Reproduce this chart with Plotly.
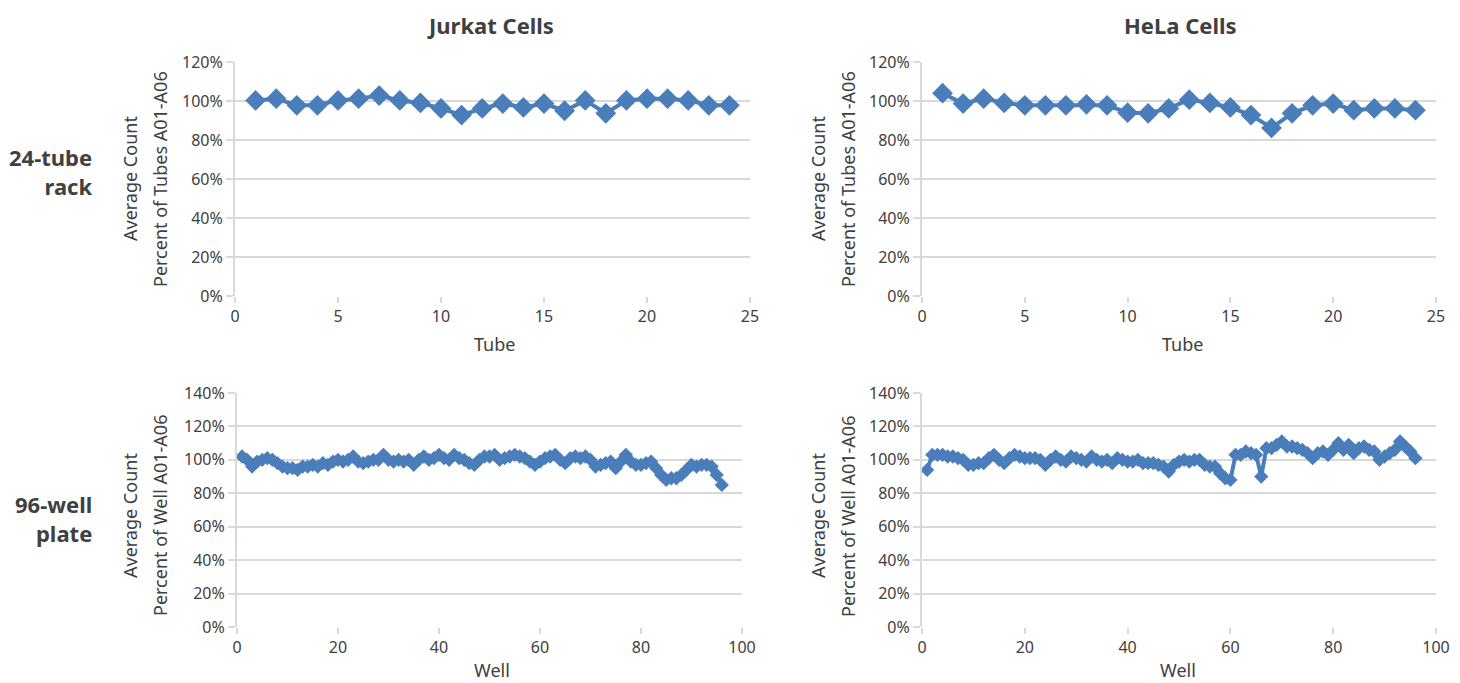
import plotly.graph_objects as go

# ---------------- data ----------------
tubes = list(range(1, 25))
jurkat_tube = [100.3, 101.2, 97.8, 97.8, 100.3, 101.2, 102.8, 100.3, 99.0, 96.2,
               92.8, 96.2, 98.7, 96.7, 98.7, 95.0, 100.3, 93.7, 100.3, 101.2,
               101.2, 100.3, 97.8, 97.8]
hela_tube = [104.0, 98.7, 101.2, 99.0, 97.8, 97.8, 97.8, 98.3, 97.8, 94.0,
             93.7, 96.2, 100.7, 99.0, 96.7, 92.8, 86.2, 93.7, 97.8, 98.7,
             95.3, 96.2, 96.2, 95.3]

wells = list(range(1, 97))
jurkat_well = [102, 100, 96, 99, 100, 101, 100, 98, 96, 95,
               95, 94, 96, 96, 97, 96, 98, 97, 99, 100,
               99, 100, 102, 99, 98, 99, 100, 100, 103, 100,
               99, 100, 99, 100, 97, 100, 102, 100, 101, 103,
               101, 100, 103, 101, 100, 98, 97, 100, 102, 102,
               103, 100, 101, 102, 103, 102, 101, 99, 97, 99,
               101, 102, 103, 100, 98, 101, 102, 101, 102, 100,
               96, 97, 98, 99, 95, 99, 103, 99, 97, 97,
               98, 99, 95, 91, 88, 89, 89, 91, 94, 97,
               96, 97, 97, 96, 91, 85]
hela_well = [94, 103, 103, 103, 102, 102, 101, 100, 97, 97,
             98, 98, 101, 103, 100, 98, 101, 103, 102, 101,
             101, 101, 100, 97, 100, 102, 100, 99, 102, 101,
             100, 99, 102, 100, 99, 100, 98, 101, 100, 99,
             99, 100, 98, 98, 98, 97, 96, 93, 97, 99,
             100, 99, 100, 100, 97, 96, 96, 92, 89, 88,
             103, 103, 105, 104, 103, 90, 107, 107, 109, 111,
             108, 108, 107, 106, 104, 101, 104, 105, 103, 106,
             110, 106, 109, 104, 107, 108, 106, 105, 100, 102,
             104, 106, 111, 108, 105, 101]

col_titles = ["Jurkat Cells", "HeLa Cells"]
row_titles = ["24-tube<br>rack", "96-well<br>plate"]
ytitle_line1 = "Average Count"
ytitle_tube = "Percent of Tubes A01-A06"
ytitle_well = "Percent of Well A01-A06"
xtitle_tube = "Tube"
xtitle_well = "Well"

# ---------------- style ----------------
OFF = 8                      # page body margin of the html page
W, H = 1460 - OFF, 683 - OFF
BLUE = "#4a7ebb"
GRID = "#d9d9d9"
TXT = "#404040"
FONT = "Noto Sans"


def px_x(a, b):
    return [(a - OFF) / W, (b - OFF) / W]


def px_y(top, bottom):
    return [1 - (bottom - OFF) / H, 1 - (top - OFF) / H]


fig = go.Figure()

panels = [
    (tubes, jurkat_tube, "x", "y", 16, 4),
    (tubes, hela_tube, "x2", "y2", 16, 4),
    (wells, jurkat_well, "x3", "y3", 11, 4),
    (wells, hela_well, "x4", "y4", 11, 4),
]
for xs, ys, xa, ya, ms, lw in panels:
    fig.add_trace(go.Scatter(
        x=xs, y=ys, xaxis=xa, yaxis=ya, mode="lines+markers",
        line=dict(color=BLUE, width=lw),
        marker=dict(symbol="diamond", size=ms, color=BLUE),
        showlegend=False, hoverinfo="x+y"))

tickfont = dict(family=FONT, size=16, color=TXT)
titlefont = dict(family=FONT, size=18, color=TXT)


def xax(domain, rng, dtick, anchor):
    return dict(domain=domain, range=rng, dtick=dtick, tick0=0, anchor=anchor,
                showgrid=False, zeroline=False, showline=False, automargin=False,
                ticks="outside", ticklen=6, tickwidth=2, tickcolor=GRID,
                tickfont=tickfont)


def yax(domain, rng, anchor):
    return dict(domain=domain, range=rng, dtick=20, tick0=0, anchor=anchor,
                ticksuffix="%", showgrid=True, gridcolor=GRID, gridwidth=2,
                zeroline=False, showline=True, linecolor=GRID, linewidth=2,
                automargin=False,
                ticks="outside", ticklen=7, tickwidth=2, tickcolor=GRID,
                tickfont=tickfont)


top_y = px_y(62, 296)
bot_y = px_y(393, 627)
left_top_x = px_x(235, 750)
left_bot_x = px_x(237, 742)
right_x = px_x(922, 1436)

fig.update_layout(
    width=W, height=H,
    paper_bgcolor="white", plot_bgcolor="white",
    margin=dict(l=0, r=0, t=0, b=0, autoexpand=False),
    font=dict(family=FONT, color=TXT),
    xaxis=xax(left_top_x, [0, 25], 5, "y"),
    yaxis=yax(top_y, [0, 120], "x"),
    xaxis2=xax(right_x, [0, 25], 5, "y2"),
    yaxis2=yax(top_y, [0, 120], "x2"),
    xaxis3=xax(left_bot_x, [0, 100], 20, "y3"),
    yaxis3=yax(bot_y, [0, 140], "x3"),
    xaxis4=xax(right_x, [0, 100], 20, "y4"),
    yaxis4=yax(bot_y, [0, 140], "x4"),
)

ann = []


def add_text(txt, xc, yc, font, angle=0, xanchor="center", align="center"):
    ann.append(dict(text=txt, x=(xc - OFF) / W, y=1 - (yc - OFF) / H,
                    xref="paper", yref="paper",
                    showarrow=False, textangle=angle, align=align, font=font,
                    xanchor=xanchor, yanchor="middle"))


bigfont = dict(family=FONT, size=22, color=TXT)
# column titles
for txt, xc in zip(col_titles, [490, 1180]):
    add_text("<b>%s</b>" % txt, xc, 25, bigfont)
# row titles
for txt, yc in zip(row_titles, [172, 518]):
    add_text("<b>%s</b>" % txt, 94, yc, bigfont, xanchor="right", align="right")
# y axis titles (two lines each)
for x1, x2, yc, t2 in [(130, 160, 179, ytitle_tube), (818, 848, 179, ytitle_tube),
                       (130, 160, 516, ytitle_well), (818, 848, 516, ytitle_well)]:
    add_text(ytitle_line1, x1, yc, titlefont, angle=-90)
    add_text(t2, x2, yc, titlefont, angle=-90)
# x axis titles
add_text(xtitle_tube, 494, 344, titlefont)
add_text(xtitle_tube, 1182, 344, titlefont)
add_text(xtitle_well, 492, 670, titlefont)
add_text(xtitle_well, 1178, 670, titlefont)

fig.update_layout(annotations=ann)

fig.write_html("out.html")
